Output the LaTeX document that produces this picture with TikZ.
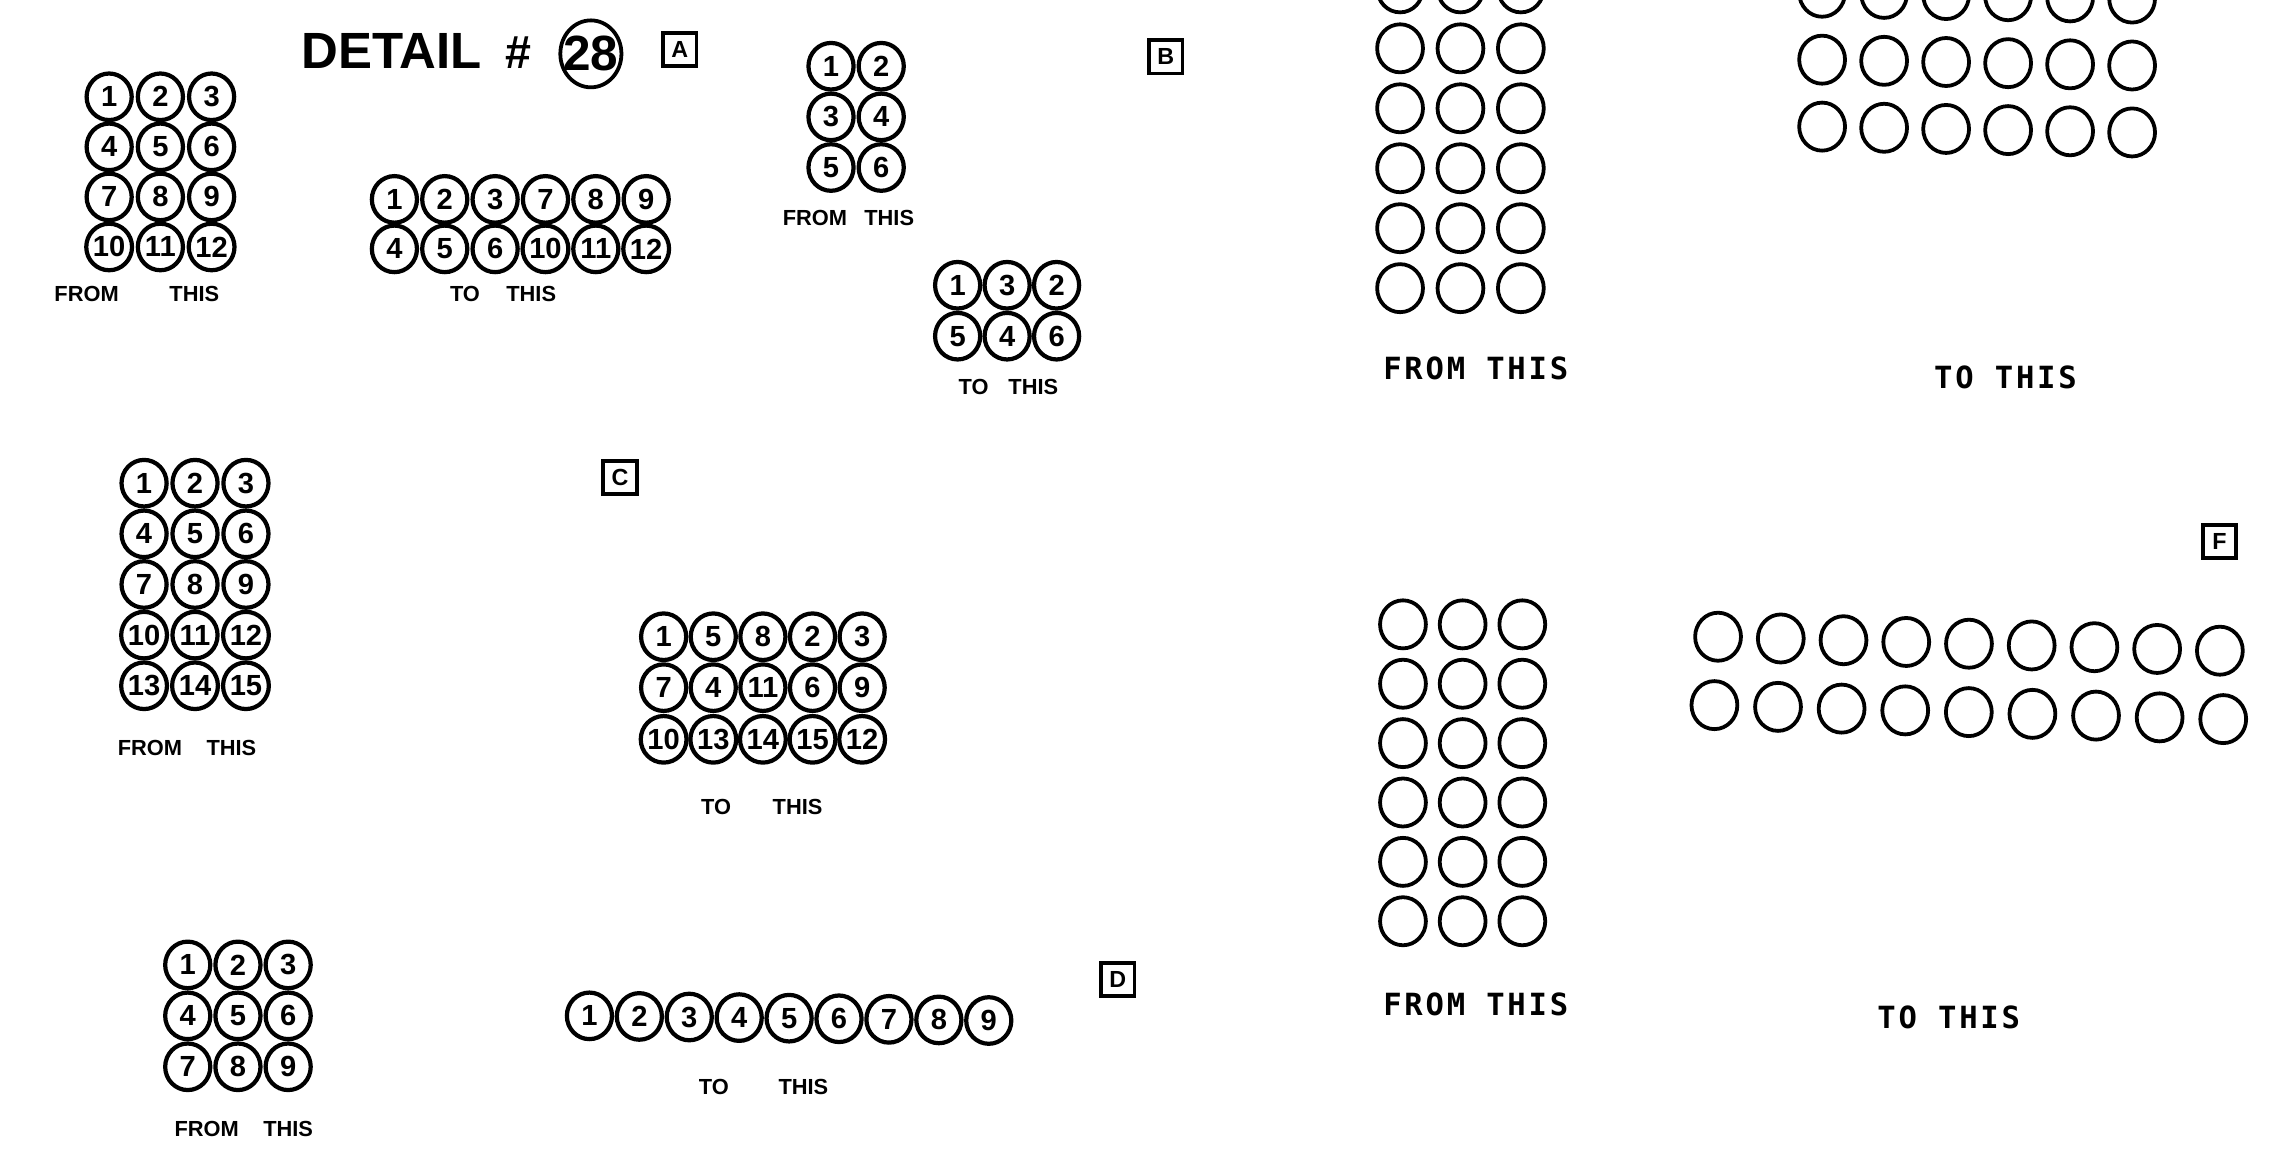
\documentclass[tikz,border=0pt]{standalone}
\usepackage{fontspec}
\setmainfont{Liberation Sans}
\newfontfamily\plotfont[LetterSpace=9]{DejaVu Sans Mono}
\usetikzlibrary{shapes.geometric}
\begin{document}
\begin{tikzpicture}[x=1pt,y=-1pt,
 num/.style={ellipse, draw, line width=2.9pt, minimum width=31pt, minimum height=32pt, inner sep=0pt, font=\fontsize{20}{20}\selectfont\bfseries},
 blank/.style={ellipse, draw, line width=2.6pt, minimum width=31.5pt, minimum height=33pt, inner sep=0pt},
 lbl/.style={font=\fontsize{15}{15}\selectfont\bfseries, inner sep=0pt},
 plot/.style={font=\fontsize{21}{21}\selectfont\plotfont\bfseries, inner sep=0pt},
 tagbox/.style={draw, line width=2.6pt, minimum width=23pt, minimum height=23pt, inner sep=0pt, font=\fontsize{16}{16}\selectfont\bfseries}]
\fill[white] (0,0) rectangle (1568,792);
\useasboundingbox (0,0) rectangle (1568,792);

% ---- title ----
\node[font=\fontsize{35}{35}\selectfont\bfseries, inner sep=0pt] (title) at (269,35) {DETAIL};
\node[font=\fontsize{32}{32}\selectfont\bfseries, inner sep=0pt] (hash) at (356,36) {\#};
\node[font=\fontsize{34}{34}\selectfont\bfseries, inner sep=0pt] (det) at (406,37) {28};
\draw[line width=2.6pt] (det.center) ellipse [x radius=21, y radius=23];
\node[tagbox] (tagA) at (467,34) {A};

% ---- A ----
\foreach \r in {0,...,3} \foreach \c in {0,1,2} {
  \pgfmathtruncatemacro\n{3*\r+\c+1}
  \node[num] (aF\n) at ({75+35.2*\c},{66.5+34.4*\r}) {\n};
}
\node[lbl] (aFl1) at (59.5,202) {FROM};
\node[lbl] (aFl2) at (133.5,202) {THIS};
\foreach \v [count=\i from 0] in {1,2,3,7,8,9}
  \node[num] (aTa\i) at ({271+34.6*\i},137) {\v};
\foreach \v [count=\i from 0] in {4,5,6,10,11,12}
  \node[num] (aTb\i) at ({271+34.6*\i},171) {\v};
\node[lbl] (aTl1) at (319.5,202) {TO};
\node[lbl] (aTl2) at (365,202) {THIS};

% ---- B ----
\node[tagbox] (tagB) at (801,39) {B};
\foreach \r in {0,1,2} \foreach \c in {0,1} {
  \pgfmathtruncatemacro\n{2*\r+\c+1}
  \node[num] (bF\n) at ({571+34.5*\c},{45.5+34.8*\r}) {\n};
}
\node[lbl] (bFl1) at (560,150) {FROM};
\node[lbl] (bFl2) at (611,150) {THIS};
\foreach \v [count=\i from 0] in {1,3,2}
  \node[num] (bTa\i) at ({658+34*\i},196) {\v};
\foreach \v [count=\i from 0] in {5,4,6}
  \node[num] (bTb\i) at ({658+34*\i},231) {\v};
\node[lbl] (bTl1) at (669,266) {TO};
\node[lbl] (bTl2) at (710,266) {THIS};

% ---- C ----
\node[tagbox] (tagC) at (426,328) {C};
\foreach \r in {0,...,4} \foreach \c in {0,1,2} {
  \pgfmathtruncatemacro\n{3*\r+\c+1}
  \node[num] (cF\n) at ({99+35*\c},{332+34.8*\r}) {\n};
}
\node[lbl] (cFl1) at (103,514) {FROM};
\node[lbl] (cFl2) at (159,514) {THIS};
\foreach \v [count=\i from 0] in {1,5,8,2,3}
  \node[num] (cTa\i) at ({456+34.1*\i},437.5) {\v};
\foreach \v [count=\i from 0] in {7,4,11,6,9}
  \node[num] (cTb\i) at ({456+34.1*\i},472.5) {\v};
\foreach \v [count=\i from 0] in {10,13,14,15,12}
  \node[num] (cTc\i) at ({456+34.1*\i},508) {\v};
\node[lbl] (cTl1) at (492,554.5) {TO};
\node[lbl] (cTl2) at (548,554.5) {THIS};

% ---- D ----
\node[tagbox] (tagD) at (768,673) {D};
\foreach \r in {0,1,2} \foreach \c in {0,1,2} {
  \pgfmathtruncatemacro\n{3*\r+\c+1}
  \node[num] (dF\n) at ({129+34.5*\c},{663+35*\r}) {\n};
}
\node[lbl] (dFl1) at (142,776) {FROM};
\node[lbl] (dFl2) at (198,776) {THIS};
\foreach \v [count=\i from 0] in {1,...,9}
  \node[num] (dT\i) at ({405+34.3*\i},{698+0.4*\i}) {\v};
\node[lbl] (dTl1) at (490.5,747) {TO};
\node[lbl] (dTl2) at (552,747) {THIS};

% ---- E ----
\foreach \r in {0,...,5} \foreach \c in {0,1,2}
  \node[blank] (eF\r\c) at ({962+41.5*\c},{-8+41.2*\r}) {};
\node[plot] (eFl) at (1014,253) {FROM THIS};
\foreach \r in {0,1,2} \foreach \c in {0,...,5}
  \node[blank] (eT\r\c) at ({1252+42.6*\c},{-5+46*\r+0.8*\c}) {};
\node[plot] (eTl) at (1378,259) {TO THIS};

% ---- F ----
\node[tagbox] (tagF) at (1525,372) {F};
\foreach \r in {0,...,5} \foreach \c in {0,1,2}
  \node[blank] (fF\r\c) at ({964+41*\c},{429+40.8*\r}) {};
\node[plot] (fFl) at (1014,690) {FROM THIS};
\foreach \c in {0,...,8}
  \node[blank] (fTa\c) at ({1180.5+43.1*\c},{437.5+1.2*\c}) {};
\foreach \c in {0,...,8}
  \node[blank] (fTb\c) at ({1178+43.7*\c},{484.5+1.2*\c}) {};
\node[plot] (fTl) at (1339,699) {TO THIS};
\end{tikzpicture}
\end{document}
